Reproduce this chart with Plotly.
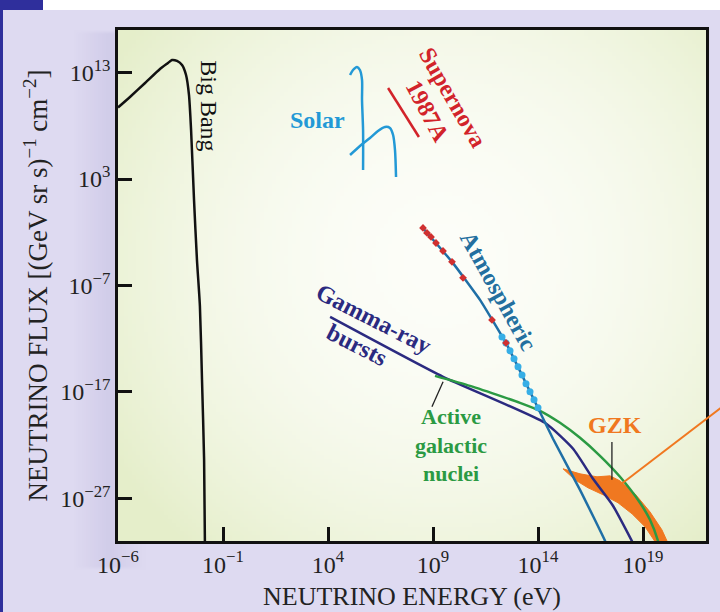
import zlib, struct, base64
import numpy as np
import plotly.graph_objects as go

# ---------------- data (log10 of energy in eV, log10 of flux) ----------------
bigbang_logE = [-6.0, -5.43, -4.71, -4.0, -3.62, -3.43, -3.19, -2.95, -2.76, -2.62, -2.52, -2.38, -2.24, -2.10, -2.0, -1.90, -1.86]
bigbang_logF = [9.72, 10.71, 12.02, 13.34, 13.90, 14.18, 14.09, 13.71, 12.77, 10.90, 7.61, 1.04, -4.60, -8.92, -15.86, -23.38, -31.4]

solar1_logE = [5.05, 5.19, 5.38, 5.52, 5.62, 5.62, 5.67, 5.67]
solar1_logF = [12.77, 13.24, 13.53, 13.24, 12.31, 10.43, 7.61, 3.85]
solar2_logE = [5.05, 5.52, 6.0, 6.38, 6.71, 6.95, 7.10, 7.19, 7.24]
solar2_logF = [5.26, 6.11, 6.86, 7.52, 7.89, 7.80, 7.14, 5.73, 3.20]

supernova_logE = [6.86, 8.33]
supernova_logF = [11.55, 6.95]

atmos_logE = [8.476, 9.905, 11.238, 12.524, 13.762, 14.714, 16.0, 17.19, 17.24]
atmos_logF = [-1.50, -4.78, -8.35, -12.58, -17.55, -21.40, -26.19, -30.98, -31.3]
atmos_red_logE = [8.524, 8.714, 8.905, 9.143, 9.476, 9.905, 10.429, 11.810, 12.476]
atmos_red_logF = [-1.59, -2.06, -2.44, -3.01, -3.76, -4.78, -6.28, -10.23, -12.39]
atmos_blue_logE = [12.286, 12.476, 12.667, 12.857, 13.048, 13.238, 13.429, 13.619, 13.810, 14.0]
atmos_blue_logF = [-11.83, -12.39, -13.14, -13.89, -14.64, -15.40, -16.24, -16.99, -17.74, -18.49]

grb_logE = [4.10, 9.48, 14.33, 15.67, 16.62, 17.57, 18.55]
grb_logF = [-9.95, -15.58, -19.90, -22.34, -25.16, -27.69, -31.3]

agn_logE = [9.095, 10.762, 12.333, 13.143, 14.095, 15.048, 16.0, 16.952, 17.905, 18.857, 19.333, 19.714, 19.76]
agn_logF = [-15.49, -16.43, -17.46, -18.02, -18.77, -19.90, -21.31, -23.0, -24.97, -27.41, -29.01, -30.98, -31.36]

gzk_logE = [15.19, 16.0, 16.81, 17.43, 17.90, 18.62, 19.33, 19.90, 20.19,
            19.62, 19.10, 18.48, 17.81, 17.10, 16.38, 15.76, 15.19]
gzk_logF = [-24.22, -24.69, -24.97, -24.88, -25.35, -26.57, -28.26, -29.95, -31.2,
            -31.2, -29.67, -28.45, -27.41, -26.66, -26.0, -25.25, -24.22]

agn_pointer_logE = [9.48, 8.95]
agn_pointer_logF = [-16.05, -18.40]
gzk_pointer_logE = [17.52, 17.52]
gzk_pointer_logF = [-21.69, -25.25]

x_tick_exp = [-6, -1, 4, 9, 14, 19]
y_tick_exp = [13, 3, -7, -17, -27]

# ---------------- styling ----------------
SERIF = "Liberation Serif, Times New Roman, serif"
C_BLACK = "#111111"
C_SOLAR = "#2399d6"
C_SN = "#d2232a"
C_ATM = "#1f6fa6"
C_ATM_LBL = "#236f9f"
C_RED = "#d03030"
C_LBLUE = "#36aee6"
C_GRB = "#2b2a80"
C_AGN = "#2b9a43"
C_GZK = "#f07820"


def p10(a):
    return np.power(10.0, np.array(a, dtype=float))


def make_png(w, h, fn):
    raw = bytearray()
    for j in range(h):
        raw.append(0)
        for i in range(w):
            raw.extend(fn(i / (w - 1), j / (h - 1)))

    def chunk(t, d):
        return struct.pack('>I', len(d)) + t + d + struct.pack('>I', zlib.crc32(t + d) & 0xffffffff)

    png = (b'\x89PNG\r\n\x1a\n'
           + chunk(b'IHDR', struct.pack('>IIBBBBB', w, h, 8, 2, 0, 0, 0))
           + chunk(b'IDAT', zlib.compress(bytes(raw), 9))
           + chunk(b'IEND', b''))
    return 'data:image/png;base64,' + base64.b64encode(png).decode()


def plot_grad(u, v):
    c0 = (252, 253, 248)
    c1 = (229, 238, 202)
    d = (((u - 0.55) / 0.66) ** 2 + ((v - 0.45) / 0.75) ** 2) ** 0.5
    t = min(1.0, d) ** 2.0
    return bytes(int(round(c0[k] * (1 - t) + c1[k] * t)) for k in range(3))


def paper_grad(u, v):
    c0 = (222, 218, 241)
    c1 = (206, 201, 231)
    d = abs(u - 0.15)
    t = max(0.0, 1 - d / 0.05) * 0.8 if 0.05 < v < 0.93 else 0.0
    return bytes(int(round(c0[k] * (1 - t) + c1[k] * t)) for k in range(3))


fig = go.Figure()

# GZK band (under the lines)
fig.add_trace(go.Scatter(x=p10(gzk_logE), y=p10(gzk_logF), mode="lines", fill="toself",
                         fillcolor=C_GZK, line=dict(color=C_GZK, width=1), hoverinfo="skip"))

fig.add_trace(go.Scatter(x=p10(bigbang_logE), y=p10(bigbang_logF), mode="lines",
                         line=dict(color=C_BLACK, width=2.5, shape="spline", smoothing=0.6)))
fig.add_trace(go.Scatter(x=p10(solar1_logE), y=p10(solar1_logF), mode="lines",
                         line=dict(color=C_SOLAR, width=2.5, shape="spline", smoothing=0.8)))
fig.add_trace(go.Scatter(x=p10(solar2_logE), y=p10(solar2_logF), mode="lines",
                         line=dict(color=C_SOLAR, width=2.5, shape="spline", smoothing=0.8)))
fig.add_trace(go.Scatter(x=p10(supernova_logE), y=p10(supernova_logF), mode="lines",
                         line=dict(color=C_SN, width=2.5)))
fig.add_trace(go.Scatter(x=p10(grb_logE), y=p10(grb_logF), mode="lines",
                         line=dict(color=C_GRB, width=2.5, shape="spline", smoothing=0.5)))
fig.add_trace(go.Scatter(x=p10(agn_logE), y=p10(agn_logF), mode="lines",
                         line=dict(color=C_AGN, width=2.5, shape="spline", smoothing=0.6)))
fig.add_trace(go.Scatter(x=p10(atmos_logE), y=p10(atmos_logF), mode="lines",
                         line=dict(color=C_ATM, width=2.5, shape="spline", smoothing=0.4)))
fig.add_trace(go.Scatter(x=p10(atmos_blue_logE), y=p10(atmos_blue_logF), mode="markers",
                         marker=dict(color=C_LBLUE, size=7, symbol="circle")))
fig.add_trace(go.Scatter(x=p10(atmos_red_logE), y=p10(atmos_red_logF), mode="markers",
                         marker=dict(color=C_RED, size=6, symbol="diamond")))
fig.add_trace(go.Scatter(x=p10(agn_pointer_logE), y=p10(agn_pointer_logF), mode="lines",
                         line=dict(color="#222222", width=1.3)))
fig.add_trace(go.Scatter(x=p10(gzk_pointer_logE), y=p10(gzk_pointer_logF), mode="lines",
                         line=dict(color="#222222", width=1.3)))

# ---------------- labels ----------------
def lbl(text, lx, ly, color, angle=0, bold=True, size=24):
    fig.add_annotation(x=lx, y=ly, xref="x", yref="y", text=f"<b>{text}</b>" if bold else text,
                       showarrow=False, textangle=angle, xanchor="center", yanchor="middle",
                       font=dict(family=SERIF, size=size, color=color))

lbl("Big Bang", -1.65, 9.9, C_BLACK, angle=90, bold=False, size=24)
lbl("Solar", 3.52, 8.55, C_SOLAR)
lbl("Supernova", 9.95, 10.6, C_SN, angle=60)
lbl("1987A", 8.72, 9.35, C_SN, angle=62)
lbl("Atmospheric", 12.1, -7.55, C_ATM_LBL, angle=61)
lbl("Gamma-ray", 6.19, -10.14, C_GRB, angle=27)
lbl("bursts", 5.38, -12.58, C_GRB, angle=27)
lbl("Active<br>galactic<br>nuclei", 9.85, -21.97, C_AGN, size=22)
lbl("GZK", 17.67, -20.09, C_GZK)

# ---------------- decorations ----------------
L, R, T, B = 118, 14, 30, 71
W, H = 720, 612
pw, ph = W - L - R, H - T - B

def px(xp):
    return (xp - L) / pw

def py(yp):
    return (H - B - yp) / ph

fig.add_layout_image(dict(source=make_png(180, 153, paper_grad), xref="paper", yref="paper",
                          x=px(0), y=py(0), sizex=W / pw, sizey=H / ph, sizing="stretch",
                          layer="below", xanchor="left", yanchor="top"))
fig.add_layout_image(dict(source=make_png(147, 128, plot_grad), xref="paper", yref="paper",
                          x=0, y=1, sizex=1, sizey=1, sizing="stretch", layer="below",
                          xanchor="left", yanchor="top"))

fig.add_shape(type="rect", xref="paper", yref="paper", x0=px(0), x1=px(W), y0=py(0), y1=py(10),
              fillcolor="white", line_width=0, layer="below")
fig.add_shape(type="rect", xref="paper", yref="paper", x0=px(0), x1=px(43), y0=py(0), y1=py(10),
              fillcolor="#2f2f9c", line_width=0, layer="below")
fig.add_shape(type="rect", xref="paper", yref="paper", x0=px(0), x1=px(3), y0=py(0), y1=py(H),
              fillcolor="#2f2f9c", line_width=0, layer="below")
# GZK pointer running off the right edge
fig.add_shape(type="line", xref="paper", yref="paper", x0=px(620), y0=py(485), x1=px(722), y1=py(407),
              line=dict(color=C_GZK, width=2))

axis_common = dict(showline=True, linecolor="#111111", linewidth=2.5, mirror=True,
                   ticks="inside", ticklen=14, tickwidth=2.5, tickcolor="#111111",
                   showgrid=False, zeroline=False,
                   tickfont=dict(family=SERIF, size=24, color="#222222"))

fig.update_xaxes(type="log", range=[-6, 22], tickvals=[10.0 ** e for e in x_tick_exp],
                 ticktext=[f"10<sup>{str(e).replace('-', '−')}</sup>" for e in x_tick_exp],
                 title=dict(text="NEUTRINO ENERGY (eV)", font=dict(family=SERIF, size=26, color="#222222"),
                            standoff=11),
                 **axis_common)
fig.update_yaxes(type="log", range=[-31, 17], tickvals=[10.0 ** e for e in y_tick_exp],
                 ticktext=[f"10<sup>{str(e).replace('-', '−')}</sup>" for e in y_tick_exp],
                 title=dict(text="NEUTRINO FLUX [(GeV sr s)<sup>−1</sup> cm<sup>−2</sup>]",
                            font=dict(family=SERIF, size=27, color="#222222"), standoff=5),
                 **axis_common)

fig.update_layout(width=W, height=H, margin=dict(l=L, r=R, t=T, b=B, autoexpand=False),
                  paper_bgcolor="#dedaf1", plot_bgcolor="rgba(0,0,0,0)", showlegend=False)

fig.write_html("out.html", config={"displayModeBar": False},
               post_script="document.body.style.margin='0';document.body.style.background='#dedaf1';")
